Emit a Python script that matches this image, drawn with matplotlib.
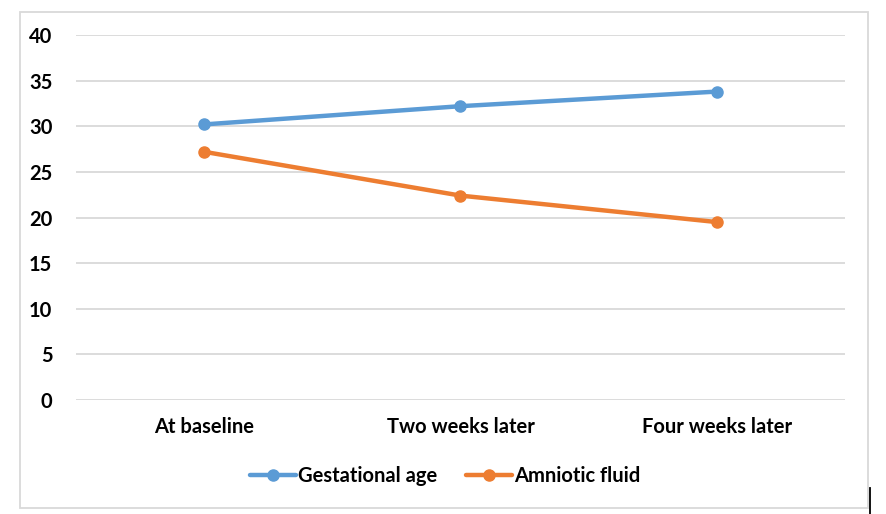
import matplotlib
matplotlib.use("Agg")
import matplotlib.pyplot as plt
from matplotlib.lines import Line2D
from matplotlib.patches import Rectangle

plt.rcParams['font.family'] = ['Lato', 'DejaVu Sans']
plt.rcParams['font.weight'] = 'bold'

categories = ['At baseline', 'Two weeks later', 'Four weeks later']
gestational_age = [30.2, 32.2, 33.8]
amniotic_fluid = [27.2, 22.4, 19.5]

blue = '#5B9BD5'
orange = '#ED7D31'

W, H = 886, 514
fig = plt.figure(figsize=(W / 100, H / 100), dpi=100)
ax = fig.add_axes([76 / W, (H - 400) / H, (845 - 76) / W, (400 - 35) / H])

x = range(len(categories))
ax.plot(x, gestational_age, color=blue, lw=3.2, marker='o', ms=8,
        label='Gestational age', solid_capstyle='round')
ax.plot(x, amniotic_fluid, color=orange, lw=3.2, marker='o', ms=8,
        label='Amniotic fluid', solid_capstyle='round')

ax.set_xlim(-0.5, 2.5)
ax.set_ylim(0, 40)
ax.set_yticks(range(0, 41, 5))
ax.set_xticks(list(x))
ax.set_xticklabels(categories)
ax.grid(axis='y', color='#D9D9D9', lw=1.3)
ax.set_axisbelow(True)
for s in ax.spines.values():
    s.set_visible(False)
ax.tick_params(length=0, labelsize=14.5)
ax.tick_params(axis='x', pad=12)
ax.tick_params(axis='y', pad=17)

leg = fig.legend(loc='center', bbox_to_anchor=(445 / W, (H - 476) / H),
                 ncol=2, frameon=False, fontsize=14.5, handlelength=2.3,
                 handletextpad=0.1, columnspacing=1.4)

# chart border
fig.patches.append(Rectangle((20 / W, (H - 508) / H), (868 - 20) / W, (508 - 12) / H,
                             transform=fig.transFigure, fill=False,
                             edgecolor='#D9D9D9', lw=1.3))
fig.lines.append(Line2D([870 / W, 870 / W], [0, (H - 488) / H],
                        transform=fig.transFigure, color='black', lw=1.3))

fig.savefig('out.png', dpi=100)
